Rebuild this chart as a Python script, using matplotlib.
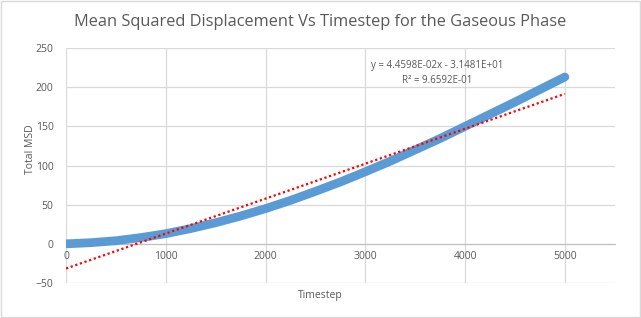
import matplotlib.pyplot as plt
from matplotlib.patches import Rectangle
import numpy as np

plt.rcParams['font.family'] = ['Open Sans', 'DejaVu Sans']

# values
timestep = [0, 250, 500, 750, 1000, 1250, 1500, 1750, 2000, 2250, 2500,
            2750, 3000, 3250, 3500, 3750, 4000, 4250, 4500, 4750, 5000]
msd = [0, 1.5, 4, 8, 13, 19.5, 27, 35.5, 45, 55.5, 67,
       79, 92, 105.5, 120, 134.5, 150, 165.5, 181, 197, 213]
fit_slope = 4.4598e-02
fit_icpt = -3.1481e+01
fit_label = "y = 4.4598E-02x - 3.1481E+01\nR² = 9.6592E-01"
x_ticks = [0, 1000, 2000, 3000, 4000, 5000]
y_ticks = [-50, 0, 50, 100, 150, 200, 250]

grey = "#595959"
fig = plt.figure(figsize=(6.41, 3.18), dpi=100)
ax = fig.add_axes([0.103, 0.110, 0.856, 0.739])

ax.plot(timestep, msd, color="#5b9bd5", lw=6.3, solid_capstyle="round", zorder=3)
fx = np.array([0, 5000])
ax.plot(fx, fit_slope * fx + fit_icpt, color="red", lw=1.6, ls=(0, (1, 1.2)), zorder=4)

ax.set_xlim(0, 5500)
ax.set_ylim(-50, 250)
ax.set_xticks(x_ticks)
ax.set_yticks(y_ticks)
ax.grid(True, color="#d9d9d9", lw=0.9)
ax.set_axisbelow(True)
for s in ["top", "right", "left"]:
    ax.spines[s].set_visible(False)
ax.spines["bottom"].set_position(("data", 0))
ax.spines["bottom"].set_color("#bfbfbf")
ax.tick_params(length=0, labelsize=7.5, colors=grey, pad=5)
ax.tick_params(axis="y", pad=9)

ax.text(3720, 218, fit_label, ha="center", va="center", fontsize=7.0,
        color=grey, linespacing=1.6)

fig.text(0.5, 0.932, "Mean Squared Displacement Vs Timestep for the Gaseous Phase",
         ha="center", va="center", fontsize=11.8, color=grey)
fig.text(0.5, 0.072, "Timestep", ha="center", va="center", fontsize=7.5, color=grey)
fig.text(0.047, 0.53, "Total MSD", ha="center", va="center", fontsize=7.5,
         color=grey, rotation=90)

fig.patches.append(Rectangle((0.001, 0.002), 0.997, 0.995, transform=fig.transFigure,
                             fill=False, edgecolor="#d9d9d9", lw=1))

fig.savefig("out.png", dpi=100, facecolor="white")
